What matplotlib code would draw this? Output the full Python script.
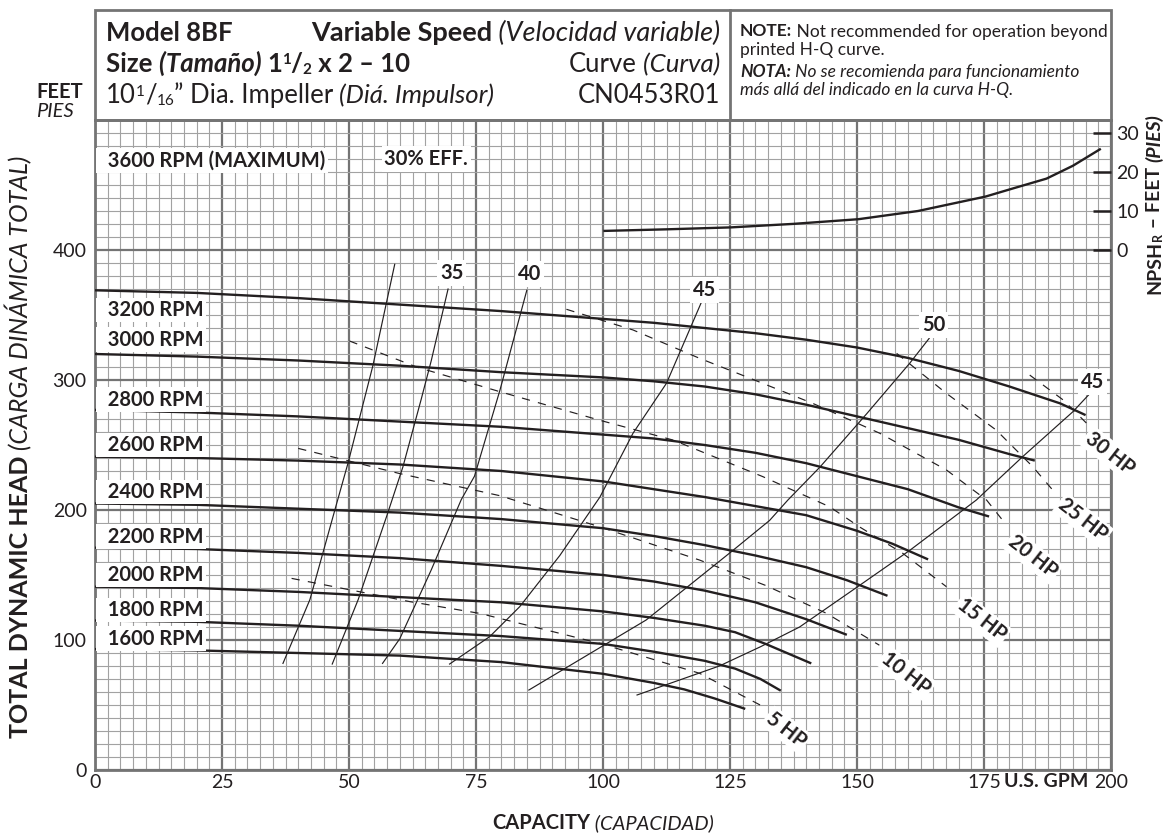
import numpy as np
import matplotlib
matplotlib.use("Agg")
import matplotlib.pyplot as plt
from matplotlib.font_manager import FontProperties
from matplotlib.transforms import IdentityTransform
from matplotlib.patches import Rectangle
from matplotlib.lines import Line2D

# head-capacity curves (U.S. GPM, feet)
q_3200 = [0, 20, 40, 60, 80, 100, 110, 120, 130, 140, 150, 160, 170, 180, 190, 195]
h_3200 = [369, 367, 363, 358, 353, 347, 344, 340, 336, 331, 325, 317, 307, 295, 282, 273]
q_3000 = [0, 20, 40, 60, 80, 100, 110, 120, 130, 140, 150, 160, 170, 180, 185]
h_3000 = [320, 318, 315, 311, 306, 302, 299, 295, 289, 281, 272, 263, 254, 243, 238]
q_2800 = [0, 20, 40, 60, 80, 100, 110, 120, 130, 140, 150, 160, 170, 176]
h_2800 = [277, 275, 272, 268, 264, 258, 255, 250, 244, 236, 226, 216, 202, 195]
q_2600 = [0, 20, 40, 60, 80, 100, 110, 120, 130, 140, 150, 157, 164]
h_2600 = [241, 240, 238, 235, 230, 222, 216, 210, 203, 196, 184, 174, 162]
q_2400 = [0, 20, 40, 60, 80, 100, 110, 120, 130, 140, 148, 156]
h_2400 = [205, 204, 201, 198, 193, 186, 180, 173, 165, 156, 146, 134]
q_2200 = [0, 20, 40, 60, 80, 100, 110, 120, 130, 140, 148]
h_2200 = [171, 170, 167, 163, 157, 150, 145, 138, 129, 116, 104]
q_2000 = [0, 20, 40, 60, 80, 100, 110, 120, 126, 132, 141]
h_2000 = [141, 140, 137, 133, 129, 122, 117, 111, 106, 97, 82]
q_1800 = [0, 20, 40, 60, 80, 100, 110, 120, 126, 131, 135]
h_1800 = [115, 114, 111, 107, 103, 97, 91, 84, 78, 70, 61]
q_1600 = [0, 20, 40, 60, 80, 100, 110, 116, 122, 128]
h_1600 = [93, 92, 90, 88, 83, 74, 67, 62, 55, 47]

rpm_labels = ["3600 RPM (MAXIMUM)", "3200 RPM", "3000 RPM", "2800 RPM", "2600 RPM",
              "2400 RPM", "2200 RPM", "2000 RPM", "1800 RPM", "1600 RPM"]
rpm_label_h = [469, 354, 331, 285, 250, 214, 179.5, 150, 123, 101]

# efficiency contours
q_e30 = [37.0, 42.3, 47.5, 49.8, 54.7, 59.0]
h_e30 = [82, 131, 204, 236, 311, 389]
q_e35 = [46.7, 51.8, 57.4, 60.6, 64.2, 66.2, 69.5]
h_e35 = [81.5, 131, 195, 233, 285, 315, 370]
q_e40 = [56.6, 60.0, 66.2, 72.1, 74.7, 79.7, 85.0]
h_e40 = [82, 101, 154, 208, 226, 292, 369]
q_e45 = [69.8, 77.7, 83.6, 91.5, 99.4, 105.9, 112.5, 119.5]
h_e45 = [81.5, 102.6, 125.6, 165, 210, 259, 297.5, 361]
q_e50 = [85.4, 108.5, 125.6, 132.8, 136.4, 142.7, 151.9, 160.4, 164.2]
h_e50 = [61.5, 115.4, 169, 192, 207.7, 233, 274, 313, 332]
q_e45b = [106.7, 122.9, 131.0, 138.7, 150.5, 160.4, 173.5, 182.6, 192.5, 195.7]
h_e45b = [57.7, 80, 94.8, 110, 142, 169, 207.7, 241, 275.6, 289]

eff_text = ["30% EFF.", "35", "40", "45", "50", "45"]
eff_q = [65.2, 70.2, 85.6, 120.0, 165.1, 196.3]
eff_h = [469.8, 382.5, 381.5, 369.2, 342.3, 298.7]

# horsepower lines
q_hp5 = [38.7, 62.0, 75.7, 99.4, 119.0, 132.2]
h_hp5 = [147.4, 129.5, 120.5, 97.4, 74.4, 47.4]
q_hp10 = [40.0, 60.0, 79.7, 99.4, 119.0, 132.0, 144.0, 154.4]
h_hp10 = [247.4, 228, 211, 187, 161.5, 142, 120.5, 96]
q_hp15 = [50.1, 63.3, 79.7, 99.4, 113.8, 131.5, 144.6, 150.5, 159.0, 167.6]
h_hp15 = [330, 310, 291, 269, 253.8, 225.6, 202.5, 187, 166.7, 141]
q_hp20 = [92.8, 105.9, 119.0, 128.2, 141.3, 154.5, 167.6, 175.5, 179.4]
h_hp20 = [354.4, 338.5, 316.7, 302.5, 282, 259, 230.8, 207.7, 188.5]
q_hp25 = [157.8, 167.6, 177.4, 184.6, 188.6]
h_hp25 = [320.5, 289.7, 261.5, 233.3, 215]
q_hp30 = [184.0, 190.6, 195.2, 197.5]
h_hp30 = [303.8, 284.6, 266.7, 256]

hp_text = ["5 HP", "10 HP", "15 HP", "20 HP", "25 HP", "30 HP"]
hp_q = [136.1, 159.7, 174.5, 184.6, 194.5, 199.8]
hp_h = [30.8, 74.4, 115.4, 164.1, 192.3, 243.6]

# NPSHr curve (feet, right scale)
npsh_q = [100.3, 112.5, 125.2, 137.5, 150.3, 162.0, 175.3, 181.0, 187.3, 192.5, 197.8]
npsh_ft = [4.9, 5.3, 5.8, 6.7, 7.9, 10.0, 13.7, 15.9, 18.3, 21.6, 25.8]

x_ticks = [0, 25, 50, 75, 100, 125, 150, 175, 200]
y_ticks = [0, 100, 200, 300, 400]
npsh_ticks = [0, 10, 20, 30]

INK = "#231f20"
FONT = ["Lato", "DejaVu Sans"]
W, H = 1163, 833

plt.rcParams["font.family"] = FONT
fig = plt.figure(figsize=(W / 100, H / 100), dpi=100)
ax = fig.add_axes([95 / W, 1 - 770 / H, 1016 / W, 650 / H])
ax.set_xlim(0, 200)
ax.set_ylim(0, 500)

ax.set_xticks(x_ticks)
ax.set_xticks(np.arange(0, 200.1, 2.5), minor=True)
ax.set_yticks(y_ticks)
ax.set_yticks(np.arange(0, 500.1, 10), minor=True)
ax.grid(which="minor", color="#a2a2a2", lw=0.8)
ax.grid(which="major", color="#747474", lw=1.6)
ax.tick_params(which="both", length=0, labelsize=14, colors=INK)
ax.tick_params(axis="x", pad=3)
ax.tick_params(axis="y", pad=6)
for s in ax.spines.values():
    s.set_color("#747474")
    s.set_linewidth(2)

rpm_curves = [(q_3200, h_3200), (q_3000, h_3000), (q_2800, h_2800), (q_2600, h_2600),
              (q_2400, h_2400), (q_2200, h_2200), (q_2000, h_2000), (q_1800, h_1800),
              (q_1600, h_1600)]
for q, h in rpm_curves:
    ax.plot(q, h, color=INK, lw=1.7, solid_capstyle="butt", zorder=4)

for lab, hh in zip(rpm_labels, rpm_label_h):
    ax.text(0.6, hh, "  " + lab, fontsize=14.5, weight="bold", color=INK, va="center", ha="left",
            zorder=6, bbox=dict(fc="white", ec="none", pad=1.6))

eff_curves = [(q_e30, h_e30), (q_e35, h_e35), (q_e40, h_e40), (q_e45, h_e45),
              (q_e50, h_e50), (q_e45b, h_e45b)]
for q, h in eff_curves:
    ax.plot(q, h, color=INK, lw=0.85, zorder=3)
for t, q, h in zip(eff_text, eff_q, eff_h):
    ax.text(q, h, t, fontsize=14.5, weight="bold", color=INK, ha="center", va="center",
            zorder=6, clip_on=False, bbox=dict(fc="white", ec="none", pad=2))

hp_curves = [(q_hp5, h_hp5), (q_hp10, h_hp10), (q_hp15, h_hp15), (q_hp20, h_hp20),
             (q_hp25, h_hp25), (q_hp30, h_hp30)]
for q, h in hp_curves:
    ax.plot(q, h, color=INK, lw=0.85, ls=(0, (7, 7)), zorder=3)
for t, q, h in zip(hp_text, hp_q, hp_h):
    ax.text(q, h, t, fontsize=14.5, weight="bold", color=INK, ha="center", va="center",
            rotation=-38, rotation_mode="anchor", zorder=6, clip_on=False,
            bbox=dict(fc="white", ec="none", pad=1.5))

# NPSHr on its own scale: 0 ft sits on 400 ft of head, 10 ft per 30 ft of head
ax2 = ax.twinx()
ax2.set_ylim(-400 / 3, 100 / 3)
ax2.set_yticks(npsh_ticks)
ax2.tick_params(axis="y", direction="in", length=13, width=1.8, colors=INK, labelsize=14, pad=4)
for s in ax2.spines.values():
    s.set_visible(False)
ax2.plot(npsh_q, npsh_ft, color=INK, lw=1.7)


def runs(x, y, parts, align="left", rotation=0):
    # consecutive text pieces with mixed styles; x, y in pixels from top-left, y = baseline
    r = fig.canvas.get_renderer()
    items = []
    for p in parts:
        s, size = p[0], p[1]
        weight = p[2] if len(p) > 2 else "normal"
        style = p[3] if len(p) > 3 else "normal"
        rise = p[4] if len(p) > 4 else 0
        fp = FontProperties(family=FONT, size=size, weight=weight, style=style)
        w = (r.get_text_width_height_descent("|" + s + "|", fp, ismath=False)[0]
             - r.get_text_width_height_descent("||", fp, ismath=False)[0])
        items.append((s, fp, rise, w))
    total = sum(it[3] for it in items)
    pos = {"left": 0, "center": -total / 2, "right": -total}[align]
    for s, fp, rise, w in items:
        if rotation:
            px, py = x - rise, H - y + pos
        else:
            px, py = x + pos, H - y + rise
        fig.text(px, py, s, fontproperties=fp, color=INK, transform=IdentityTransform(),
                 rotation=rotation, rotation_mode="anchor", ha="left", va="baseline")
        pos += w


# header box
fig.add_artist(Rectangle((95, H - 120), 1016, 110, transform=IdentityTransform(),
                         fill=False, ec="#747474", lw=2))
fig.add_artist(Line2D([730, 730], [H - 120, H - 10], transform=IdentityTransform(),
                      color="#747474", lw=2))

HS = 18.5
SUP = 11
runs(106, 41, [("Model 8BF", HS, "bold")])
runs(720, 41, [("Variable Speed", 19.5, "bold"), (" (Velocidad variable)", 19.5, "normal", "italic")],
     align="right")
runs(106, 72, [("Size ", HS, "bold"), ("(Tamaño) ", HS, "bold", "italic"), ("1", HS, "bold"),
               ("1", SUP, "bold", "normal", 7.5), ("/", HS, "bold"), ("2", SUP, "bold", "normal", -2),
               (" x 2 – 10", HS, "bold")])
runs(720, 72, [("Curve", HS), (" (Curva)", HS, "normal", "italic")], align="right")
runs(106, 103, [("10", HS), ("1", SUP, "normal", "normal", 7.5), ("/", HS),
                ("16", SUP, "normal", "normal", -2), ("” Dia. Impeller", HS),
                (" (Diá. Impulsor)", HS, "normal", "italic")])
runs(720, 103, [("CN0453R01", HS)], align="right")

NS = 12.5
runs(740, 36.5, [("NOTE:", NS, "bold"), (" Not recommended for operation beyond", NS)])
runs(740, 55, [("printed H-Q curve.", NS)])
runs(740, 77, [("NOTA:", NS, "bold", "italic"), (" No se recomienda para funcionamiento", NS, "normal", "italic")])
runs(740, 94.5, [("más allá del indicado en la curva H-Q.", NS, "normal", "italic")])

runs(36, 98, [("FEET", 14.5, "bold")])
runs(36, 117, [("PIES", 14.5, "normal", "italic")])

runs(28, 447, [("TOTAL DYNAMIC HEAD", 18, "bold"), (" (CARGA DINÁMICA TOTAL)", 18, "normal", "italic")],
     align="center", rotation=90)
runs(603, 829, [("CAPACITY", 14.5, "bold"), (" (CAPACIDAD)", 14.5, "normal", "italic")], align="center")
runs(1004, 787, [("U.S. GPM", 14, "bold")])
runs(1160, 294, [("NPSH", 14, "bold"), ("R", 9, "bold", "normal", -2), (" – FEET ", 14, "bold"),
                 ("(PIES)", 14, "bold", "italic")], rotation=90)

fig.savefig("out.png", dpi=100)
